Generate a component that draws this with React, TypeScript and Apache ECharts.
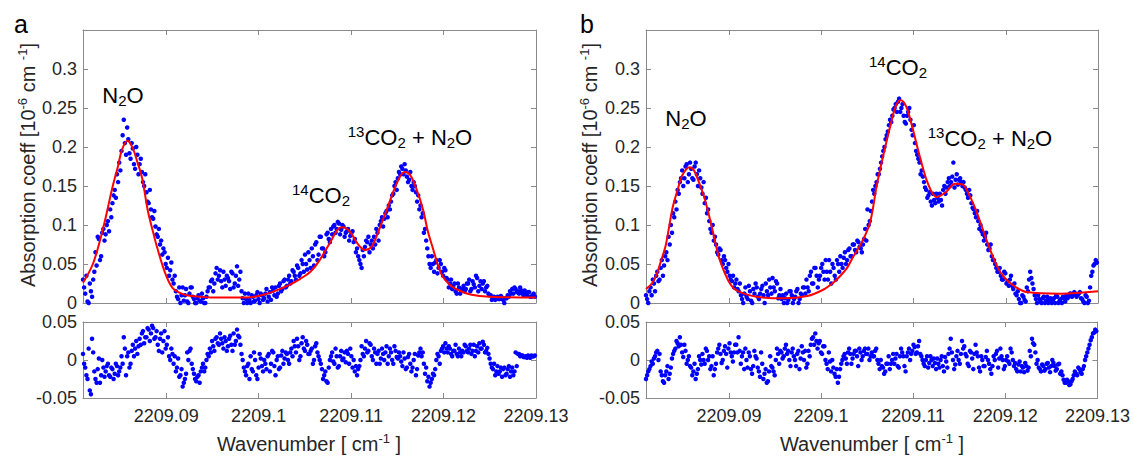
import React, { useEffect, useRef } from "react";
import * as echarts from "echarts";

// Spectrometer sample grid (wavenumber of first sample and spacing, cm^-1)
const sampleStart = 2209.081;
const sampleStep = 0.000245;

const xMin = 2209.081;
const xMax = 2209.13;
const xTicks = [2209.09, 2209.1, 2209.11, 2209.12, 2209.13];

// Panel a: measured absorption coefficient (10^-6 cm^-1), scan 1
const absorbA = [
  0.030, 0.012, 0.002, 0.025, 0.008, 0.040, 0.048, 0.082, 0.060, 0.095,
  0.088, 0.105, 0.120, 0.128, 0.145, 0.165, 0.180, 0.195, 0.235, 0.190,
  0.210, 0.185, 0.198, 0.172, 0.190, 0.178, 0.168, 0.150, 0.142, 0.128,
  0.120, 0.108, 0.098, 0.085, 0.075, 0.062, 0.065, 0.045, 0.035, 0.052,
  0.025, 0.015, 0.005, 0.000, 0.020, 0.010, 0.002, 0.012, 0.020, 0.005,
  0.000, 0.010, 0.002, 0.006, 0.000, 0.015, 0.020, 0.030, 0.025, 0.045,
  0.035, 0.028, 0.040, 0.022, 0.032, 0.018, 0.038, 0.025, 0.047, 0.030,
  0.015, 0.000, 0.005, 0.012, 0.000, 0.008, 0.003, 0.014, 0.000, 0.010,
  0.006, 0.018, 0.008, 0.004, 0.016, 0.020, 0.012, 0.025, 0.018, 0.030,
  0.022, 0.035, 0.028, 0.040, 0.030, 0.045, 0.038, 0.050, 0.062, 0.043,
  0.055, 0.070, 0.048, 0.078, 0.062, 0.085, 0.070, 0.065, 0.090, 0.078,
  0.088, 0.100, 0.095, 0.102, 0.094, 0.098, 0.090, 0.095, 0.086, 0.092,
  0.082, 0.070, 0.055, 0.045, 0.060, 0.080, 0.085, 0.075, 0.070, 0.075,
  0.090, 0.100, 0.110, 0.108, 0.118, 0.125, 0.130, 0.140, 0.155, 0.160,
  0.165, 0.172, 0.178, 0.162, 0.158, 0.150, 0.155, 0.142, 0.138, 0.125,
  0.115, 0.095, 0.070, 0.050, 0.060, 0.040, 0.055, 0.045, 0.050, 0.035,
  0.042, 0.030, 0.025, 0.018, 0.025, 0.012, 0.020, 0.015, 0.022, 0.018,
  0.025, 0.015, 0.028, 0.020, 0.032, 0.022, 0.018, 0.028, 0.020, 0.012,
  0.010, 0.006, 0.004, 0.008, 0.005, 0.007, 0.000, 0.006, 0.008, 0.012,
  0.012, 0.018, 0.015, 0.020, 0.012, 0.016, 0.010, 0.014, 0.008, 0.012,
];
// Panel a: scan 2 (samples half a step later)
const absorbA2 = [
  0.020, 0.035, 0.000, 0.015, 0.030, 0.065, 0.085, 0.055, 0.090, 0.080,
  0.100, 0.092, 0.110, 0.138, 0.135, 0.155, 0.170, 0.215, 0.205, 0.225,
  0.192, 0.205, 0.178, 0.200, 0.165, 0.185, 0.155, 0.165, 0.130, 0.145,
  0.110, 0.118, 0.088, 0.095, 0.080, 0.070, 0.050, 0.058, 0.042, 0.030,
  0.035, 0.008, 0.020, 0.010, 0.003, 0.018, 0.000, 0.020, 0.008, 0.000,
  0.006, 0.003, 0.012, 0.000, 0.008, 0.020, 0.028, 0.015, 0.038, 0.030,
  0.042, 0.020, 0.030, 0.035, 0.028, 0.040, 0.020, 0.035, 0.022, 0.040,
  0.006, 0.012, 0.000, 0.004, 0.010, 0.002, 0.010, 0.005, 0.012, 0.004,
  0.012, 0.002, 0.014, 0.020, 0.010, 0.008, 0.022, 0.015, 0.028, 0.020,
  0.030, 0.025, 0.042, 0.035, 0.048, 0.035, 0.055, 0.040, 0.050, 0.065,
  0.045, 0.060, 0.075, 0.055, 0.085, 0.070, 0.060, 0.088, 0.082, 0.095,
  0.098, 0.090, 0.104, 0.088, 0.100, 0.085, 0.092, 0.080, 0.090, 0.078,
  0.065, 0.060, 0.050, 0.068, 0.072, 0.078, 0.065, 0.080, 0.085, 0.095,
  0.080, 0.105, 0.098, 0.115, 0.110, 0.120, 0.138, 0.150, 0.145, 0.168,
  0.175, 0.165, 0.170, 0.155, 0.168, 0.145, 0.150, 0.130, 0.120, 0.110,
  0.090, 0.080, 0.060, 0.045, 0.050, 0.052, 0.038, 0.055, 0.040, 0.045,
  0.032, 0.020, 0.030, 0.022, 0.015, 0.025, 0.012, 0.018, 0.015, 0.025,
  0.030, 0.018, 0.024, 0.035, 0.015, 0.028, 0.025, 0.015, 0.022, 0.010,
  0.004, 0.008, 0.006, 0.005, 0.009, 0.004, 0.006, 0.010, 0.015, 0.018,
  0.020, 0.014, 0.012, 0.016, 0.010, 0.012, 0.014, 0.008, 0.010, 0.008,
];

// Panel a: fit residual, scan 1 and scan 2
const residA = [
  0.008, -0.010, -0.025, -0.040, 0.028, -0.015, -0.030, 0.002, -0.020, -0.010,
  -0.015, -0.005, -0.022, -0.012, -0.018, -0.008, -0.015, 0.005, 0.030, -0.020,
  0.010, -0.005, 0.020, 0.015, 0.008, 0.028, 0.035, 0.022, 0.030, 0.040,
  0.035, 0.042, 0.030, 0.020, 0.028, 0.010, 0.038, 0.020, 0.005, 0.015,
  -0.005, -0.015, 0.002, -0.020, -0.035, -0.025, 0.010, 0.012, -0.005, -0.018,
  -0.028, -0.020, -0.015, -0.005, -0.010, 0.008, 0.015, 0.025, 0.012, 0.030,
  0.020, 0.028, 0.015, 0.025, 0.018, 0.032, 0.012, 0.020, 0.040, 0.030,
  0.008, -0.010, -0.020, -0.005, 0.005, -0.015, 0.000, -0.025, 0.008, -0.008,
  0.000, -0.012, 0.008, -0.005, 0.010, -0.020, 0.005, -0.010, 0.012, 0.002,
  0.008, -0.005, 0.015, 0.025, 0.010, 0.018, 0.005, 0.030, 0.012, 0.020,
  0.008, 0.015, 0.000, 0.022, 0.005, -0.005, -0.025, -0.015, -0.030, 0.000,
  0.010, -0.005, 0.005, -0.008, 0.012, 0.002, -0.003, 0.008, 0.015, -0.010,
  -0.015, -0.020, -0.008, 0.018, 0.005, 0.025, 0.012, 0.020, 0.000, 0.010,
  0.008, -0.005, 0.015, 0.000, 0.018, 0.005, 0.010, -0.005, 0.012, 0.002,
  0.005, -0.008, 0.002, -0.010, 0.008, -0.015, 0.000, -0.020, 0.006, 0.015,
  0.010, -0.018, -0.028, -0.035, -0.025, -0.020, 0.000, 0.005, 0.012, 0.018,
  0.022, 0.010, 0.015, 0.005, 0.012, 0.008, 0.015, 0.005, 0.010, 0.018,
  0.010, 0.020, 0.012, 0.005, 0.018, 0.022, 0.015, 0.020, 0.012, 0.008,
  -0.005, -0.012, -0.020, -0.008, -0.015, -0.022, -0.010, -0.018, -0.008, -0.015,
  -0.020, 0.010, 0.008, 0.005, 0.006, 0.004, 0.003, 0.004, 0.006, 0.005,
];
const residA2 = [
  -0.005, -0.020, 0.015, -0.045, 0.010, -0.025, -0.012, -0.030, 0.000, -0.022,
  -0.008, -0.020, -0.010, -0.025, -0.005, -0.020, -0.010, -0.005, 0.015, 0.005,
  -0.010, 0.012, 0.005, 0.025, 0.018, 0.020, 0.038, 0.030, 0.042, 0.025,
  0.045, 0.028, 0.038, 0.012, 0.035, 0.025, 0.015, 0.030, 0.000, 0.008,
  0.005, -0.010, -0.022, -0.012, -0.030, -0.018, 0.000, 0.015, -0.012, -0.025,
  -0.022, -0.030, -0.010, -0.015, 0.000, 0.005, 0.010, 0.018, 0.028, 0.022,
  0.035, 0.022, 0.030, 0.012, 0.028, 0.020, 0.035, 0.025, 0.032, 0.020,
  0.000, -0.015, -0.008, -0.025, -0.012, 0.010, -0.020, -0.010, 0.002, -0.015,
  -0.005, 0.005, -0.015, 0.012, -0.008, 0.000, -0.012, 0.006, -0.005, 0.010,
  0.000, 0.010, 0.005, 0.018, 0.028, 0.000, 0.022, 0.015, 0.025, 0.008,
  0.012, -0.005, 0.018, 0.010, 0.000, -0.012, -0.020, -0.028, -0.010, 0.005,
  -0.002, 0.015, -0.010, 0.005, 0.000, 0.010, 0.012, -0.005, 0.005, 0.000,
  -0.008, -0.012, 0.000, 0.008, 0.015, 0.010, 0.022, 0.005, 0.015, -0.005,
  0.012, 0.002, 0.008, 0.010, -0.005, 0.015, 0.000, 0.018, 0.004, 0.010,
  -0.002, 0.010, -0.012, 0.004, -0.005, -0.010, 0.008, -0.012, 0.010, 0.005,
  -0.005, -0.010, -0.022, -0.030, -0.018, -0.012, 0.008, -0.005, 0.015, 0.010,
  0.015, 0.018, 0.008, 0.012, 0.020, 0.005, 0.010, 0.012, 0.020, 0.012,
  0.015, 0.008, 0.020, 0.012, 0.010, 0.015, 0.024, 0.010, 0.016, 0.002,
  -0.010, -0.005, -0.015, -0.018, -0.010, -0.012, -0.020, -0.012, -0.022, -0.010,
  -0.015, -0.008, 0.008, 0.006, 0.004, 0.005, 0.006, 0.003, 0.005, 0.006,
];

// Panel b: measured absorption coefficient (10^-6 cm^-1), scan 1 and scan 2
const absorbB = [
  0.010, 0.000, 0.020, 0.030, 0.015, 0.040, 0.030, 0.055, 0.048, 0.065,
  0.085, 0.100, 0.115, 0.130, 0.145, 0.155, 0.170, 0.160, 0.178, 0.165,
  0.172, 0.158, 0.180, 0.150, 0.160, 0.140, 0.128, 0.115, 0.105, 0.090,
  0.080, 0.075, 0.062, 0.068, 0.050, 0.055, 0.040, 0.035, 0.028, 0.020,
  0.030, 0.015, 0.010, 0.000, 0.020, 0.005, 0.015, 0.000, 0.012, 0.020,
  0.005, 0.018, 0.010, 0.025, 0.010, 0.020, 0.032, 0.015, 0.025, 0.010,
  0.005, 0.000, 0.012, 0.004, 0.015, 0.000, 0.008, 0.018, 0.005, 0.010,
  0.020, 0.030, 0.015, 0.040, 0.025, 0.045, 0.020, 0.035, 0.050, 0.030,
  0.040, 0.055, 0.025, 0.045, 0.030, 0.050, 0.060, 0.045, 0.065, 0.055,
  0.070, 0.060, 0.075, 0.065, 0.078, 0.070, 0.075, 0.095, 0.120, 0.105,
  0.130, 0.140, 0.155, 0.165, 0.180, 0.195, 0.210, 0.220, 0.235, 0.240,
  0.250, 0.245, 0.262, 0.250, 0.240, 0.230, 0.245, 0.235, 0.215, 0.205,
  0.190, 0.180, 0.170, 0.155, 0.145, 0.138, 0.130, 0.140, 0.128, 0.135,
  0.140, 0.125, 0.150, 0.148, 0.160, 0.155, 0.180, 0.158, 0.152, 0.160,
  0.150, 0.148, 0.140, 0.145, 0.128, 0.120, 0.110, 0.105, 0.100, 0.088,
  0.085, 0.075, 0.070, 0.060, 0.055, 0.045, 0.040, 0.035, 0.030, 0.038,
  0.028, 0.030, 0.022, 0.025, 0.010, 0.005, 0.000, 0.008, 0.002, 0.015,
  0.040, 0.025, 0.010, 0.000, 0.005, 0.000, 0.008, 0.003, 0.000, 0.006,
  0.004, 0.000, 0.008, 0.003, 0.000, 0.006, 0.010, 0.008, 0.012, 0.010,
  0.012, 0.010, 0.014, 0.005, 0.000, 0.008, 0.003, 0.035, 0.048, 0.055,
];
const absorbB2 = [
  0.005, 0.015, 0.010, 0.025, 0.035, 0.028, 0.045, 0.035, 0.060, 0.055,
  0.075, 0.090, 0.110, 0.120, 0.140, 0.160, 0.150, 0.175, 0.155, 0.180,
  0.160, 0.175, 0.165, 0.170, 0.148, 0.155, 0.135, 0.120, 0.095, 0.100,
  0.085, 0.065, 0.070, 0.055, 0.060, 0.045, 0.050, 0.030, 0.035, 0.025,
  0.018, 0.025, 0.005, 0.012, 0.008, 0.022, 0.003, 0.018, 0.025, 0.008,
  0.012, 0.022, 0.000, 0.015, 0.030, 0.012, 0.020, 0.028, 0.006, 0.018,
  0.010, 0.006, 0.000, 0.015, 0.010, 0.005, 0.015, 0.000, 0.012, 0.020,
  0.012, 0.020, 0.035, 0.025, 0.045, 0.035, 0.030, 0.045, 0.040, 0.055,
  0.030, 0.040, 0.050, 0.035, 0.055, 0.040, 0.050, 0.058, 0.050, 0.068,
  0.060, 0.075, 0.068, 0.080, 0.072, 0.065, 0.082, 0.080, 0.100, 0.118,
  0.145, 0.150, 0.165, 0.172, 0.188, 0.200, 0.215, 0.228, 0.232, 0.248,
  0.255, 0.258, 0.245, 0.255, 0.232, 0.240, 0.250, 0.222, 0.228, 0.195,
  0.185, 0.165, 0.162, 0.148, 0.135, 0.142, 0.125, 0.132, 0.140, 0.130,
  0.132, 0.145, 0.140, 0.155, 0.150, 0.162, 0.148, 0.165, 0.158, 0.155,
  0.155, 0.145, 0.135, 0.138, 0.122, 0.115, 0.118, 0.095, 0.092, 0.080,
  0.090, 0.068, 0.075, 0.055, 0.050, 0.040, 0.045, 0.030, 0.040, 0.025,
  0.022, 0.035, 0.018, 0.012, 0.015, 0.000, 0.010, 0.004, 0.020, 0.030,
  0.032, 0.018, 0.005, 0.010, 0.002, 0.006, 0.000, 0.008, 0.004, 0.000,
  0.006, 0.010, 0.000, 0.005, 0.008, 0.002, 0.006, 0.012, 0.008, 0.014,
  0.008, 0.012, 0.006, 0.002, 0.010, 0.000, 0.020, 0.040, 0.050, 0.052,
];

// Panel b: fit residual, scan 1 and scan 2
const residB = [
  -0.025, -0.015, -0.008, -0.005, 0.005, 0.012, 0.008, -0.020, -0.030, -0.015,
  -0.025, -0.010, 0.008, 0.015, 0.022, 0.030, 0.010, 0.020, -0.005, 0.005,
  -0.010, -0.015, -0.025, -0.012, 0.000, 0.008, -0.005, 0.012, 0.005, -0.008,
  -0.020, -0.005, 0.015, 0.008, 0.000, 0.018, -0.010, 0.022, 0.005, 0.010,
  0.020, 0.030, -0.005, 0.010, 0.015, -0.010, 0.005, -0.018, 0.012, 0.002,
  -0.015, 0.010, -0.025, -0.012, -0.028, 0.005, -0.010, -0.020, 0.015, -0.005,
  0.010, 0.005, 0.020, 0.012, -0.008, 0.015, 0.000, 0.008, -0.012, 0.018,
  0.000, -0.010, 0.012, 0.020, 0.030, 0.035, 0.015, 0.025, 0.008, 0.018,
  -0.005, 0.010, -0.015, -0.010, -0.022, -0.030, -0.012, 0.000, 0.008, -0.005,
  0.015, -0.005, 0.008, 0.012, -0.008, 0.010, 0.005, 0.015, 0.008, 0.000,
  0.010, 0.005, 0.015, -0.005, 0.000, -0.010, -0.015, -0.005, -0.012, 0.000,
  -0.005, 0.008, -0.010, 0.015, 0.005, -0.015, 0.010, 0.000, 0.012, 0.017,
  0.010, 0.025, 0.005, -0.005, 0.000, -0.010, 0.005, -0.008, -0.004, 0.002,
  -0.010, 0.005, -0.015, -0.002, 0.008, 0.028, 0.000, -0.006, 0.012, -0.005,
  0.025, 0.018, 0.005, -0.008, 0.010, -0.012, 0.020, 0.005, -0.015, 0.000,
  -0.008, 0.012, -0.005, -0.018, 0.005, 0.008, -0.010, 0.015, 0.000, -0.008,
  0.005, -0.005, 0.010, -0.008, -0.012, -0.006, -0.015, -0.010, -0.004, -0.014,
  0.012, 0.028, 0.020, -0.005, -0.010, -0.015, -0.008, -0.012, -0.004, -0.016,
  0.000, -0.008, -0.012, -0.005, -0.015, -0.026, -0.030, -0.028, -0.032, -0.025,
  -0.015, -0.020, -0.012, -0.018, -0.008, 0.005, 0.015, 0.026, 0.035, 0.040,
];
const residB2 = [
  -0.020, -0.012, -0.002, 0.002, 0.010, 0.000, -0.015, -0.028, -0.020, -0.008,
  -0.018, 0.002, 0.012, 0.025, 0.018, 0.020, 0.004, 0.012, 0.000, -0.008,
  -0.020, -0.005, -0.018, 0.005, -0.006, 0.000, 0.015, 0.000, -0.012, 0.005,
  -0.012, 0.010, 0.020, -0.004, 0.012, 0.008, 0.015, 0.010, -0.002, 0.020,
  0.010, 0.012, 0.005, -0.012, 0.000, 0.010, -0.012, -0.008, 0.005, -0.010,
  -0.022, -0.005, -0.018, -0.030, -0.015, -0.008, -0.015, 0.000, 0.008, 0.012,
  0.002, 0.015, 0.008, 0.000, 0.010, 0.005, -0.008, 0.012, 0.002, 0.010,
  0.012, -0.005, 0.005, 0.028, 0.020, 0.025, 0.022, 0.010, 0.018, 0.000,
  -0.012, -0.002, 0.000, -0.018, -0.012, -0.022, -0.005, 0.005, 0.002, 0.010,
  0.008, 0.002, 0.012, 0.005, 0.015, 0.000, 0.012, 0.008, 0.015, 0.005,
  0.005, 0.012, 0.000, -0.012, -0.008, -0.018, -0.005, 0.005, -0.005, 0.008,
  0.002, -0.008, 0.005, 0.010, -0.008, 0.005, 0.015, 0.008, 0.020, 0.008,
  0.018, 0.008, 0.000, -0.008, 0.005, -0.004, 0.000, 0.002, -0.012, -0.005,
  0.000, -0.008, 0.004, -0.010, 0.015, 0.010, -0.012, 0.005, 0.000, 0.008,
  0.015, 0.008, -0.005, 0.012, 0.002, 0.008, 0.010, -0.010, 0.005, -0.008,
  0.004, 0.000, -0.012, -0.008, 0.000, 0.012, 0.002, 0.005, -0.012, 0.000,
  -0.002, 0.015, 0.000, -0.004, -0.015, -0.002, -0.008, -0.016, -0.008, -0.010,
  0.005, 0.022, 0.010, 0.000, -0.012, -0.006, -0.014, -0.005, -0.010, -0.008,
  -0.004, -0.014, -0.006, -0.018, -0.020, -0.030, -0.026, -0.033, -0.028, -0.020,
  -0.018, -0.010, -0.016, -0.012, 0.000, 0.010, 0.020, 0.030, 0.036, 0.038,
];

// Fitted model curves
const fitAWavenumber = [
  2209.081, 2209.0821, 2209.0832, 2209.0842, 2209.0848, 2209.0852, 2209.0858, 2209.0864,
  2209.0869, 2209.0874, 2209.088, 2209.0886, 2209.089, 2209.0899, 2209.0907, 2209.0915,
  2209.0922, 2209.0937, 2209.0951, 2209.0987, 2209.1009, 2209.1031, 2209.1045, 2209.1056,
  2209.1066, 2209.1077, 2209.1086, 2209.1091, 2209.1099, 2209.1107, 2209.1115, 2209.1122,
  2209.1128, 2209.1139, 2209.115, 2209.1158, 2209.1164, 2209.1171, 2209.1178, 2209.1183,
  2209.1189, 2209.1194, 2209.1199, 2209.1207, 2209.1215, 2209.1229, 2209.125, 2209.13,
];
const fitAValue = [
  0.026, 0.051, 0.097, 0.149, 0.176, 0.196, 0.208, 0.198,
  0.180, 0.160, 0.119, 0.090, 0.072, 0.038, 0.019, 0.013,
  0.010, 0.008, 0.007, 0.007, 0.012, 0.022, 0.031, 0.040,
  0.055, 0.077, 0.095, 0.097, 0.091, 0.076, 0.068, 0.072,
  0.087, 0.121, 0.155, 0.168, 0.164, 0.145, 0.119, 0.092,
  0.068, 0.048, 0.034, 0.023, 0.017, 0.011, 0.008, 0.007,
];
const fitBWavenumber = [
  2209.081, 2209.0817, 2209.0822, 2209.0826, 2209.0831, 2209.0835, 2209.0839, 2209.0845,
  2209.0849, 2209.0857, 2209.0862, 2209.0867, 2209.0874, 2209.0882, 2209.0886, 2209.089,
  2209.0899, 2209.0905, 2209.0912, 2209.093, 2209.0959, 2209.0985, 2209.1002, 2209.1013,
  2209.102, 2209.1028, 2209.1034, 2209.1044, 2209.1053, 2209.106, 2209.1067, 2209.1075,
  2209.1081, 2209.1086, 2209.1092, 2209.1099, 2209.1107, 2209.1116, 2209.1125, 2209.1135,
  2209.1145, 2209.1153, 2209.1161, 2209.1169, 2209.118, 2209.1191, 2209.1199, 2209.121,
  2209.1223, 2209.1259, 2209.13,
];
const fitBValue = [
  0.018, 0.026, 0.038, 0.053, 0.072, 0.097, 0.123, 0.148,
  0.163, 0.174, 0.170, 0.156, 0.132, 0.094, 0.073, 0.055,
  0.029, 0.019, 0.014, 0.008, 0.006, 0.009, 0.017, 0.026,
  0.034, 0.045, 0.058, 0.078, 0.104, 0.150, 0.188, 0.228,
  0.253, 0.260, 0.252, 0.224, 0.187, 0.152, 0.136, 0.142,
  0.153, 0.152, 0.137, 0.115, 0.078, 0.046, 0.032, 0.021,
  0.014, 0.012, 0.015,
];

const FONT = "'Liberation Sans', Arial, Helvetica, sans-serif";
const AXIS_COLOR = "#8a8a8a";
const LABEL_COLOR = "#262626";

const samples = (vals: number[], offset: number) =>
  vals.map((v, i) => [sampleStart + (i + offset) * sampleStep, v]);
const twoScans = (s1: number[], s2: number[]) => [...samples(s1, 0), ...samples(s2, 0.5)];
const pairs = (xs: number[], ys: number[]) => xs.map((x, i) => [x, ys[i]]);
const fmt = (v: number) => String(parseFloat(v.toFixed(2)));

function xAxisPair(gridIndex: number, showLabels: boolean) {
  const base = {
    type: "value",
    gridIndex,
    min: xMin,
    max: xMax,
    splitLine: { show: false },
    axisLine: { show: true, onZero: false, lineStyle: { color: AXIS_COLOR, width: 1 } },
    axisTick: { show: true, inside: true, length: 5, customValues: xTicks, lineStyle: { color: AXIS_COLOR } },
  };
  return [
    {
      ...base,
      position: "bottom",
      axisLabel: {
        show: showLabels,
        customValues: xTicks,
        formatter: (v: number) => fmt(v),
        color: LABEL_COLOR,
        fontSize: 18,
        fontFamily: FONT,
        margin: 9,
      },
    },
    { ...base, position: "top", axisLabel: { show: false } },
  ];
}

function yAxisPair(gridIndex: number, min: number, max: number, labelMax: number) {
  const base = {
    type: "value",
    gridIndex,
    min,
    max,
    interval: 0.05,
    splitLine: { show: false },
    axisLine: { show: true, onZero: false, lineStyle: { color: AXIS_COLOR, width: 1 } },
    axisTick: { show: true, inside: true, length: 5, lineStyle: { color: AXIS_COLOR } },
  };
  return [
    {
      ...base,
      position: "left",
      axisLabel: {
        formatter: (v: number) => (v > labelMax + 1e-9 ? "" : fmt(v)),
        color: LABEL_COLOR,
        fontSize: 18,
        fontFamily: FONT,
        margin: 6,
        showMaxLabel: true,
        showMinLabel: true,
      },
    },
    { ...base, position: "right", axisLabel: { show: false } },
  ];
}

const richAnn = {
  n: { fontSize: 22, lineHeight: 26, fontFamily: FONT, fill: "#000" },
  sup: { fontSize: 15, lineHeight: 15, verticalAlign: "top", fontFamily: FONT, fill: "#000" },
  sub: { fontSize: 15, lineHeight: 15, verticalAlign: "bottom", fontFamily: FONT, fill: "#000" },
};
const richTitle = {
  n: { fontSize: 20, lineHeight: 24, fontFamily: FONT, fill: LABEL_COLOR },
  sup: { fontSize: 13, lineHeight: 13, verticalAlign: "top", fontFamily: FONT, fill: LABEL_COLOR },
};

function annotation(text: string, x: number, y: number) {
  return {
    type: "text",
    x,
    y,
    silent: true,
    style: { text, rich: richAnn, align: "center", verticalAlign: "middle" },
  };
}

export default function App() {
  const ref = useRef<HTMLDivElement>(null);
  useEffect(() => {
    if (!ref.current) return;
    const chart = echarts.init(ref.current, null, { renderer: "svg" });
    const grids = [
      { left: 83, top: 30, width: 453, height: 273 },
      { left: 83, top: 322, width: 453, height: 76 },
      { left: 646, top: 30, width: 452, height: 273 },
      { left: 646, top: 322, width: 452, height: 76 },
    ];
    const scatter = (idx: number, data: number[][]) => ({
      type: "scatter",
      xAxisIndex: idx * 2,
      yAxisIndex: idx * 2,
      data,
      symbol: "circle",
      symbolSize: 4.5,
      itemStyle: { color: "#0000ff", opacity: 1 },
      z: 2,
    });
    const fit = (idx: number, data: number[][]) => ({
      type: "line",
      xAxisIndex: idx * 2,
      yAxisIndex: idx * 2,
      data,
      showSymbol: false,
      smooth: 0.35,
      lineStyle: { color: "#ff0000", width: 2 },
      z: 5,
    });
    const option = {
      animation: false,
      backgroundColor: "#ffffff",
      grid: grids,
      xAxis: [
        ...xAxisPair(0, false),
        ...xAxisPair(1, true),
        ...xAxisPair(2, false),
        ...xAxisPair(3, true),
      ],
      yAxis: [
        ...yAxisPair(0, 0, 0.35, 0.3),
        ...yAxisPair(1, -0.05, 0.05, 0.05),
        ...yAxisPair(2, 0, 0.35, 0.3),
        ...yAxisPair(3, -0.05, 0.05, 0.05),
      ],
      series: [
        scatter(0, twoScans(absorbA, absorbA2)),
        fit(0, pairs(fitAWavenumber, fitAValue)),
        scatter(1, twoScans(residA, residA2)),
        scatter(2, twoScans(absorbB, absorbB2)),
        fit(2, pairs(fitBWavenumber, fitBValue)),
        scatter(3, twoScans(residB, residB2)),
      ],
      graphic: [
        { type: "text", x: 14, y: 24, style: { text: "a", fontSize: 25, fontFamily: FONT, fill: "#000", align: "left", verticalAlign: "middle" } },
        { type: "text", x: 580, y: 24, style: { text: "b", fontSize: 25, fontFamily: FONT, fill: "#000", align: "left", verticalAlign: "middle" } },
        {
          type: "text", x: 28, y: 165, rotation: Math.PI / 2,
          style: { text: "{n|Absorption coeff [10}{sup|-6}{n| cm }{sup|-1}{n|]}", rich: richTitle, align: "center", verticalAlign: "middle" },
        },
        {
          type: "text", x: 590, y: 165, rotation: Math.PI / 2,
          style: { text: "{n|Absorption coeff [10}{sup|-6}{n| cm }{sup|-1}{n|]}", rich: richTitle, align: "center", verticalAlign: "middle" },
        },
        {
          type: "text", x: 309, y: 444,
          style: { text: "{n|Wavenumber [ cm}{sup|-1}{n| ]}", rich: richTitle, align: "center", verticalAlign: "middle" },
        },
        {
          type: "text", x: 872, y: 444,
          style: { text: "{n|Wavenumber [ cm}{sup|-1}{n| ]}", rich: richTitle, align: "center", verticalAlign: "middle" },
        },
        annotation("{n|N}{sub|2}{n|O}", 123, 95),
        annotation("{sup|14}{n|CO}{sub|2}", 321, 195),
        annotation("{sup|13}{n|CO}{sub|2}{n| + N}{sub|2}{n|O}", 410, 137),
        annotation("{n|N}{sub|2}{n|O}", 686, 118),
        annotation("{sup|14}{n|CO}{sub|2}", 898, 67),
        annotation("{sup|13}{n|CO}{sub|2}{n| + N}{sub|2}{n|O}", 990, 138),
      ],
    };
    chart.setOption(option as any);
    return () => chart.dispose();
  }, []);
  return (
    <div
      ref={ref}
      style={{ position: "absolute", left: 0, top: 0, width: 1133, height: 457, background: "#fff" }}
    />
  );
}
